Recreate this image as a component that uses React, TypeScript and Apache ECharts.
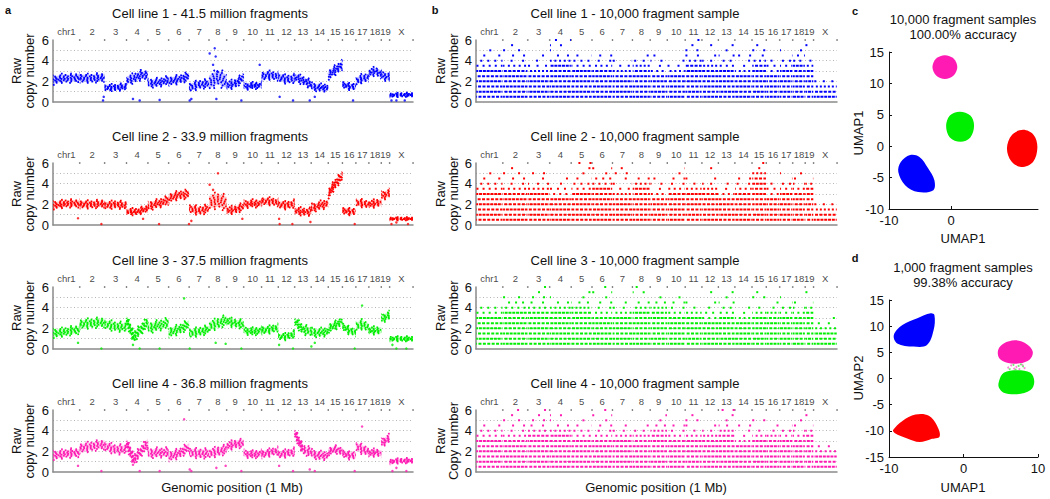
import React, { useEffect, useRef } from "react";
import * as echarts from "echarts";

const FONT = "'Liberation Sans', Arial, Helvetica, sans-serif";

// ---------- genome ----------
const CHROM_NAMES = ["chr1", "2", "3", "4", "5", "6", "7", "8", "9", "10", "11", "12", "13", "14", "15", "16", "17", "18", "19", "X"];
const CHROM_SIZES_MB = [195.5, 182.1, 160.0, 156.5, 151.8, 149.7, 145.4, 129.4, 124.6, 130.7, 122.1, 120.1, 120.4, 124.9, 104.0, 98.2, 95.0, 90.7, 61.4, 171.0];

// ---------- panel a: copy-number profile knots per chromosome ----------
const PROFILE_A1 = [[2.1, 2.3, 2.3, 2.4], [2.3, 2.3, 2.4], [1.4, 1.4, 1.5], [2.1, 2.3, 2.6, 2.6], [1.8, 1.9, 2.1], [2.0, 2.2, 2.5], [1.4, 1.7, 1.8], [1.9, 2.4, 2.0], [1.6, 1.8, 2.4], [1.5, 1.6, 1.6], [2.5, 2.6, 2.5], [2.4, 2.2, 2.3], [2.4, 2.1, 1.7], [1.5, 1.4, 1.4], [2.6, 3.1, 3.6], [1.7, 1.5, 1.5], [2.0, 2.3, 2.4], [2.8, 3.0, 2.7], [2.6, 2.4], [0.65, 0.7, 0.7]];
const SPREAD_A1 = [0.45, 0.45, 0.35, 0.5, 0.45, 0.45, 0.45, 0.85, 0.45, 0.35, 0.45, 0.45, 0.45, 0.4, 0.5, 0.35, 0.45, 0.45, 0.45, 0.2];
const OUTLIERS_A1 = [[366, 0.15], [371, 0.5], [585, 0.3], [634, 0.15], [780, 0.2], [1000, 0.15], [1012, 0.3], [1171, 3.6], [1190, 4.4], [1183, 5.2], [1146, 4.7], [1207, 2.9], [1195, 0.3], [1378, 0.15], [1512, 3.6], [1658, 0.5], [1756, 0.15], [1878, 0.15], [1915, 0.5], [2195, 0.15], [2476, 0.15], [2512, 0.15], [2573, 0.15]];

const PROFILE_A2 = [[1.9, 2.1, 2.1], [2.0, 2.0, 2.1], [1.9, 2.0, 1.9], [1.3, 1.3, 1.6], [1.8, 2.1, 2.4], [2.6, 2.9, 3.0], [1.6, 1.4, 1.6], [2.2, 2.4, 2.1], [1.4, 1.5, 1.8], [2.0, 2.1, 2.1], [2.3, 2.3, 2.2], [2.0, 1.9, 2.1], [1.4, 1.3, 1.3], [1.6, 1.9, 2.1], [3.0, 4.0, 4.8], [1.4, 1.3, 1.3], [2.2, 2.1, 2.0], [2.0, 2.1, 2.2], [2.8, 3.1], [0.6, 0.6, 0.6]];
const SPREAD_A2 = [0.4, 0.4, 0.4, 0.35, 0.45, 0.45, 0.45, 0.8, 0.4, 0.4, 0.4, 0.4, 0.4, 0.45, 0.5, 0.35, 0.4, 0.4, 0.45, 0.15];
const OUTLIERS_A2 = [[183, 0.65], [354, 0.1], [659, 0.6], [776, 0.1], [995, 0.1], [1012, 0.4], [1146, 3.9], [1207, 5.0], [1171, 3.4], [1385, 0.6], [1654, 0.6], [1658, 0.1], [1751, 0.1], [1883, 0.3], [2207, 0.1], [2476, 0.1], [2512, 0.25], [2597, 0.1]];

const PROFILE_A3 = [[1.5, 1.7, 1.9], [2.4, 2.5, 2.6], [2.4, 2.2, 2.1], [2.8, 1.2, 1.9, 2.6], [2.0, 2.3, 2.5], [1.6, 1.9, 2.4], [1.5, 1.7, 1.9], [2.2, 2.5, 2.8], [2.7, 2.5, 2.4], [1.8, 1.7, 1.8], [1.8, 1.9, 2.1], [1.2, 1.2, 1.5], [2.7, 1.9, 1.7], [1.6, 1.6, 1.7], [2.0, 2.3, 2.7], [2.2, 1.8, 1.6], [2.2, 2.4, 2.1], [1.8, 1.8, 1.8], [2.9, 3.3], [1.0, 1.0, 1.0]];
const SPREAD_A3 = [0.45, 0.5, 0.5, 0.55, 0.55, 0.5, 0.45, 0.55, 0.45, 0.4, 0.4, 0.35, 0.5, 0.45, 0.45, 0.4, 0.5, 0.4, 0.45, 0.25];
const OUTLIERS_A3 = [[183, 0.6], [354, 0.05], [585, 0.4], [598, 0.9], [634, 0.05], [780, 0.05], [959, 4.9], [1000, 0.05], [1190, 0.6], [1263, 0.5], [1378, 0.05], [1654, 0.4], [1756, 0.05], [1890, 0.25], [1915, 0.6], [2207, 0.05], [2261, 4.2], [2483, 0.4], [2512, 0.05], [2585, 0.05]];

const PROFILE_A4 = [[1.6, 1.8, 1.9], [2.3, 2.5, 2.7], [2.5, 2.2, 2.2], [2.8, 1.2, 2.0, 2.8], [1.8, 1.9, 1.9], [1.5, 1.8, 2.4], [1.9, 1.8, 1.8], [1.8, 2.0, 2.2], [2.5, 2.7, 2.8], [1.8, 1.7, 1.8], [1.7, 1.9, 2.1], [1.7, 1.8, 2.0], [3.8, 2.2, 1.9], [1.8, 1.6, 1.6], [2.0, 2.2, 2.0], [1.8, 1.6, 1.6], [2.5, 2.2, 2.0], [1.8, 1.9, 1.8], [2.8, 3.3], [1.0, 1.1, 1.1]];
const SPREAD_A4 = [0.45, 0.5, 0.5, 0.55, 0.5, 0.5, 0.5, 0.5, 0.45, 0.4, 0.4, 0.4, 0.5, 0.45, 0.4, 0.4, 0.5, 0.4, 0.45, 0.25];
const OUTLIERS_A4 = [[183, 0.6], [354, 0.1], [585, 0.7], [634, 0.1], [780, 0.1], [959, 5.1], [1000, 0.25], [1012, 0.1], [1195, 0.4], [1263, 0.6], [1378, 0.1], [1654, 0.6], [1756, 0.1], [1878, 0.25], [1915, 0.1], [2207, 0.1], [2261, 4.4], [2483, 0.1], [2512, 0.4], [2585, 0.1]];

// ---------- panel b: highest densely / sparsely populated copy-number level ----------
const SOLID_B1 = [3, 3, 2.5, 3.5, 3, 3, 2.5, 3, 2.5, 2.5, 3.5, 3, 3, 2.5, 3.5, 2.5, 3, 3.5, 3, 1];
const SPARSE_B1 = [5, 5.5, 4.5, 6, 4.5, 4.5, 4, 5, 4.5, 4, 6, 5.5, 5.5, 4.5, 5.5, 4, 5, 5.5, 5.5, 2];
const SOLID_B2 = [3, 3, 3, 2.5, 3, 3.5, 2.5, 3.5, 2.5, 3, 3, 3, 2.5, 3, 4.5, 2.5, 3, 3, 3.5, 1];
const SPARSE_B2 = [5, 5.5, 5, 4.5, 6, 5.5, 5.5, 5, 4.5, 5.5, 4.5, 5.5, 4, 4.5, 6, 4, 5, 5, 4.5, 2];
const SOLID_B3 = [3, 3.5, 3.5, 3.5, 3.5, 3, 3, 3.5, 3.5, 3, 3, 2.5, 3, 2.5, 3, 3, 3, 3, 3.5, 1.5];
const SPARSE_B3 = [4, 5, 6, 5, 5.5, 6, 4.5, 6, 5, 5, 4.5, 5.5, 5.5, 4, 5.5, 4.5, 5, 4.5, 5.5, 3];
const SOLID_B4 = [3, 3, 3.5, 3.5, 3, 3, 3, 3, 3.5, 3, 3, 3, 3.5, 2.5, 3, 3, 3, 3, 3.5, 1.5];
const SPARSE_B4 = [4.5, 6, 6, 5.5, 5, 6, 4.5, 4.5, 5.5, 4.5, 5.5, 4.5, 6, 4.5, 5, 4.5, 4.5, 5, 5.5, 2.5];

// ---------- panels c, d: UMAP cluster outlines ----------
const UMAP_C_BLUE = [[-6.6, -1.4], [-5.1, -1.7], [-3.7, -3.5], [-2.7, -5.4], [-2.85, -7.0], [-5.3, -7.3], [-7.4, -6.2], [-8.5, -4.1], [-8.1, -2.5]];
const UMAP_C_RED = [[13.9, -0.2], [13.3, 1.8], [11.6, 2.6], [9.8, 1.8], [9.0, -0.3], [9.7, -2.4], [11.3, -3.3], [13.2, -2.5]];
const UMAP_C_GREEN = [[3.7, 3.3], [3.1, 4.9], [1.4, 5.5], [-0.2, 4.9], [-0.8, 3.2], [-0.2, 1.4], [1.5, 0.7], [3.1, 1.4]];
const UMAP_C_MAGENTA = [[1.0, 12.6], [0.4, 13.95], [-1.0, 14.5], [-2.4, 13.95], [-3.0, 12.6], [-2.4, 11.25], [-1.0, 10.7], [0.4, 11.25]];
const UMAP_D_BLUE = [[-9.35, 8.3], [-8.2, 10.2], [-6.2, 11.5], [-4.4, 12.45], [-3.9, 12.1], [-4.0, 9.3], [-4.9, 6.4], [-6.7, 6.1], [-8.9, 6.7]];
const UMAP_D_RED = [[-9.45, -9.85], [-8.2, -8.1], [-6.45, -6.9], [-4.65, -7.1], [-3.6, -8.9], [-3.2, -11.1], [-4.4, -11.6], [-5.9, -12.15], [-7.55, -11.45], [-9.25, -10.4]];
const UMAP_D_MAGENTA = [[4.65, 5.45], [5.4, 6.7], [7.0, 7.3], [8.55, 6.5], [9.3, 5.1], [8.9, 3.65], [7.55, 2.9], [5.85, 3.0], [4.8, 3.85]];
const UMAP_D_GREEN = [[4.75, -0.6], [5.4, 1.1], [7.2, 1.6], [9.0, 1.1], [9.5, -0.6], [9.0, -2.2], [7.2, -3.0], [5.4, -2.7], [4.75, -1.7]];
const UMAP_D_MIX_PINK = [[6.4, 2.5], [7.1, 2.2], [7.9, 2.6], [6.8, 1.9], [8.2, 2.0], [6.0, 2.1], [7.5, 1.8]];
const UMAP_D_MIX_GREEN = [[6.7, 2.6], [7.4, 2.4], [6.2, 1.8], [8.0, 2.3], [7.0, 1.7], [7.7, 2.7]];

const COLORS = ["#0000ff", "#ff0000", "#00ee00", "#ff1ab3"];

// ---------- layout ----------
const A_TOPS = [40, 163, 287, 410];
const PANEL_H = 62;
const A_LEFT = 53;
const A_W = 360;
const B_LEFT = 476;
const B_W = 361;

// stipple styles for the profile bands (offset within band, dash gap)
const BAND_OFFSETS = [-1, -0.7, -0.4, -0.13, 0.13, 0.4, 0.7, 1];
const BAND_GAPS = [6.5, 3.2, 2.1, 1.6, 1.8, 2.4, 3.6, 7.5];

const starts: number[] = [];
let acc = 0;
CHROM_SIZES_MB.forEach((s) => {
  starts.push(acc);
  acc += s;
});
const TOTAL = acc;
const ends = starts.map((s, i) => s + CHROM_SIZES_MB[i]);
const centers = starts.map((s, i) => s + CHROM_SIZES_MB[i] / 2);

function txt(x: number, y: number, text: string, extra: any = {}, rotation = 0): any {
  return {
    type: "text",
    x,
    y,
    rotation,
    silent: true,
    style: {
      text,
      fontSize: extra.fontSize || 13,
      fontWeight: extra.fontWeight || "normal",
      fontFamily: FONT,
      fill: extra.fill || "#111",
      align: "center",
      verticalAlign: "middle",
      textAlign: "center",
      textVerticalAlign: "middle",
    },
  };
}

function chromDecor(g: number): any[] {
  return [
    {
      type: "scatter",
      xAxisIndex: g,
      yAxisIndex: g,
      silent: true,
      symbolSize: 1.6,
      itemStyle: { color: "#555" },
      data: ends.map((e) => [e, 6]),
      z: 1,
    },
    {
      type: "scatter",
      xAxisIndex: g,
      yAxisIndex: g,
      silent: true,
      symbolSize: 0,
      data: centers.map((c, i) => ({ value: [c, 6], name: CHROM_NAMES[i] })),
      label: {
        show: true,
        position: "top",
        distance: 4,
        formatter: "{b}",
        fontSize: 9.5,
        color: "#111",
        fontFamily: FONT,
      },
    },
  ];
}

function bandSeries(g: number, profile: number[][], spread: number[], outliers: number[][], color: string): any[] {
  return [
    {
      type: "custom",
      xAxisIndex: g,
      yAxisIndex: g,
      silent: true,
      data: CHROM_NAMES.map((_, i) => [starts[i], ends[i], i]),
      encode: { x: [0, 1] },
      renderItem: (params: any, api: any) => {
        const i = api.value(2) as number;
        const x0 = api.value(0) as number;
        const x1 = api.value(1) as number;
        const knots = profile[i];
        const s = spread[i];
        const n = knots.length;
        const xs = knots.map((_, j) => x0 + ((x1 - x0) * j) / (n - 1));
        const line = (f: number) => knots.map((v, j) => api.coord([xs[j], v + f * s]));
        const upper = line(0.75);
        const lower = line(-0.75).reverse();
        const children: any[] = [
          { type: "polygon", shape: { points: upper.concat(lower) }, style: { fill: color, opacity: 0.22 } },
        ];
        BAND_OFFSETS.forEach((f, k) => {
          children.push({
            type: "polyline",
            shape: { points: line(f) },
            style: {
              stroke: color,
              lineWidth: 1.9,
              lineDash: [1.7, BAND_GAPS[k]],
              lineDashOffset: (k * 2.3 + i * 1.1) % 5,
              fill: null,
            },
          });
        });
        return { type: "group", children };
      },
    },
    {
      type: "scatter",
      xAxisIndex: g,
      yAxisIndex: g,
      silent: true,
      symbolSize: 2.5,
      itemStyle: { color },
      data: outliers,
    },
  ];
}

function rowsSeries(g: number, solid: number[], sparse: number[], color: string): any {
  return {
    type: "custom",
    xAxisIndex: g,
    yAxisIndex: g,
    silent: true,
    data: CHROM_NAMES.map((_, i) => [starts[i], ends[i], i]),
    encode: { x: [0, 1] },
    renderItem: (params: any, api: any) => {
      const i = api.value(2) as number;
      const x0 = (api.value(0) as number) + 2;
      const x1 = (api.value(1) as number) - 2;
      const children: any[] = [];
      let r = 0;
      for (let lv = 0.5; lv <= sparse[i] + 1e-6; lv += 0.5) {
        r++;
        const p0 = api.coord([x0, lv]);
        const p1 = api.coord([x1, lv]);
        const d = lv - solid[i];
        const vary = (i * 3 + r * 5) % 4;
        const dash =
          d <= 0 ? [3, 0.8 + (vary % 2) * 0.6] : d <= 0.5 ? [2, 2 + vary * 0.7] : d <= 1 ? [2, 5 + vary * 1.5] : [2, 9 + vary * 4];
        children.push({
          type: "line",
          shape: { x1: p0[0], y1: p0[1], x2: p1[0], y2: p1[1] },
          style: { stroke: color, lineWidth: 2, lineDash: dash, lineDashOffset: (i * 7 + r * 11) % 13 },
        });
      }
      return { type: "group", children };
    },
  };
}

function blobSeries(g: number, blobs: number[][][], colors: string[]): any {
  return {
    type: "custom",
    xAxisIndex: g,
    yAxisIndex: g,
    silent: true,
    data: blobs.map((b, i) => [b[0][0], b[0][1], i]),
    renderItem: (params: any, api: any) => {
      const i = api.value(2) as number;
      const pts = blobs[i].map((p) => api.coord(p));
      return { type: "polygon", shape: { points: pts, smooth: 0.35 }, style: { fill: colors[i] } };
    },
  };
}

function buildOption(): any {
  const grids: any[] = [];
  const xAxes: any[] = [];
  const yAxes: any[] = [];
  const series: any[] = [];
  const graphic: any[] = [];

  const profiles = [PROFILE_A1, PROFILE_A2, PROFILE_A3, PROFILE_A4];
  const spreads = [SPREAD_A1, SPREAD_A2, SPREAD_A3, SPREAD_A4];
  const outliers = [OUTLIERS_A1, OUTLIERS_A2, OUTLIERS_A3, OUTLIERS_A4];
  const solids = [SOLID_B1, SOLID_B2, SOLID_B3, SOLID_B4];
  const sparses = [SPARSE_B1, SPARSE_B2, SPARSE_B3, SPARSE_B4];
  const aTitles = [
    "Cell line 1 - 41.5 million fragments",
    "Cell line 2 - 33.9 million fragments",
    "Cell line 3 - 37.5 million fragments",
    "Cell line 4 - 36.8 million fragments",
  ];
  const bTitles = [1, 2, 3, 4].map((k) => `Cell line ${k} - 10,000 fragment sample`);

  const leftY = (g: number) => ({
    gridIndex: g,
    type: "value",
    min: 0,
    max: 6,
    interval: 1,
    axisLine: { show: true, lineStyle: { color: "#8a8a8a", width: 1.5 } },
    axisTick: { show: false },
    axisLabel: {
      formatter: (v: number) => (v % 2 === 0 ? String(v) : ""),
      fontSize: 13,
      color: "#111",
      fontFamily: FONT,
      margin: 4,
    },
    splitLine: {
      show: true,
      showMinLine: false,
      showMaxLine: false,
      lineStyle: { color: "#b5b5b5", type: [1, 2.5], width: 1 },
    },
  });
  const leftX = (g: number) => ({
    gridIndex: g,
    type: "value",
    min: 0,
    max: TOTAL,
    axisLine: { show: true, onZero: false, lineStyle: { color: "#8a8a8a", width: 1.5 } },
    axisTick: { show: false },
    axisLabel: { show: false },
    splitLine: { show: false },
  });

  // panel a
  for (let k = 0; k < 4; k++) {
    const g = k;
    grids.push({ left: A_LEFT, top: A_TOPS[k], width: A_W, height: PANEL_H });
    xAxes.push(leftX(g));
    yAxes.push(leftY(g));
    series.push(...bandSeries(g, profiles[k], spreads[k], outliers[k], COLORS[k]));
    series.push(...chromDecor(g));
    graphic.push(txt(210, A_TOPS[k] - 27, aTitles[k]));
    graphic.push(txt(16, A_TOPS[k] + 31, "Raw", {}, Math.PI / 2));
    graphic.push(txt(29, A_TOPS[k] + 31, "copy number", {}, Math.PI / 2));
  }
  // panel b
  for (let k = 0; k < 4; k++) {
    const g = 4 + k;
    grids.push({ left: B_LEFT, top: A_TOPS[k], width: B_W, height: PANEL_H });
    xAxes.push(leftX(g));
    yAxes.push(leftY(g));
    series.push(rowsSeries(g, solids[k], sparses[k], COLORS[k]));
    series.push(...chromDecor(g));
    graphic.push(txt(635, A_TOPS[k] - 27, bTitles[k]));
    graphic.push(txt(440, A_TOPS[k] + 31, "Raw", {}, Math.PI / 2));
    graphic.push(txt(453, A_TOPS[k] + 31, k === 3 ? "Copy number" : "copy number", {}, Math.PI / 2));
  }

  const umapAxisCommon = {
    axisLine: { show: true, onZero: false, lineStyle: { color: "#111", width: 1 } },
    axisTick: { show: true, inside: true, length: 3, lineStyle: { color: "#111" } },
    axisLabel: { fontSize: 13, color: "#111", fontFamily: FONT, margin: 5 },
    splitLine: { show: false },
  };

  // panel c
  grids.push({ left: 889, top: 52, width: 149, height: 157 });
  xAxes.push({
    gridIndex: 8,
    type: "value",
    min: -10,
    max: 14,
    interval: 10,
    ...umapAxisCommon,
    axisLabel: { ...umapAxisCommon.axisLabel, showMaxLabel: false, customValues: [-10, 0, 10] },
    axisTick: { ...umapAxisCommon.axisTick, customValues: [-10, 0, 10] },
  });
  yAxes.push({ gridIndex: 8, type: "value", min: -10, max: 15, interval: 5, ...umapAxisCommon });
  series.push(blobSeries(8, [UMAP_C_BLUE, UMAP_C_RED, UMAP_C_GREEN, UMAP_C_MAGENTA], COLORS));

  // panel d
  grids.push({ left: 889, top: 300, width: 149, height: 157 });
  xAxes.push({ gridIndex: 9, type: "value", min: -10, max: 10, interval: 10, ...umapAxisCommon });
  yAxes.push({ gridIndex: 9, type: "value", min: -15, max: 15, interval: 5, ...umapAxisCommon });
  series.push(blobSeries(9, [UMAP_D_BLUE, UMAP_D_RED, UMAP_D_GREEN, UMAP_D_MAGENTA], COLORS));
  series.push({
    type: "scatter",
    xAxisIndex: 9,
    yAxisIndex: 9,
    silent: true,
    symbolSize: 2,
    itemStyle: { color: "#ff66cc" },
    data: UMAP_D_MIX_PINK,
  });
  series.push({
    type: "scatter",
    xAxisIndex: 9,
    yAxisIndex: 9,
    silent: true,
    symbolSize: 2,
    itemStyle: { color: "#55dd55" },
    data: UMAP_D_MIX_GREEN,
  });

  // texts
  graphic.push(txt(232, 487, "Genomic position (1 Mb)"));
  graphic.push(txt(656, 487, "Genomic position (1 Mb)"));
  graphic.push(txt(8, 10, "a", { fontWeight: "bold", fontSize: 11 }));
  graphic.push(txt(435, 10, "b", { fontWeight: "bold", fontSize: 11 }));
  graphic.push(txt(855, 11, "c", { fontWeight: "bold", fontSize: 11 }));
  graphic.push(txt(855, 258, "d", { fontWeight: "bold", fontSize: 11 }));
  graphic.push(txt(963, 19, "10,000 fragment samples"));
  graphic.push(txt(963, 34, "100.00% accuracy"));
  graphic.push(txt(963, 267, "1,000 fragment samples"));
  graphic.push(txt(963, 282, "99.38% accuracy"));
  graphic.push(txt(858, 133, "UMAP1", {}, Math.PI / 2));
  graphic.push(txt(858, 378, "UMAP2", {}, Math.PI / 2));
  graphic.push(txt(963, 238, "UMAP1"));
  graphic.push(txt(963, 487, "UMAP1"));

  return {
    animation: false,
    backgroundColor: "#ffffff",
    textStyle: { fontFamily: FONT },
    grid: grids,
    xAxis: xAxes,
    yAxis: yAxes,
    series,
    graphic: { elements: graphic },
  };
}

export default function App() {
  const ref = useRef<HTMLDivElement>(null);
  useEffect(() => {
    if (!ref.current) return;
    const chart = echarts.init(ref.current, undefined, { renderer: "svg" });
    chart.setOption(buildOption());
    return () => {
      chart.dispose();
    };
  }, []);
  return (
    <div
      ref={ref}
      style={{ position: "absolute", left: 0, top: 0, width: 1050, height: 499, background: "#fff" }}
    />
  );
}
